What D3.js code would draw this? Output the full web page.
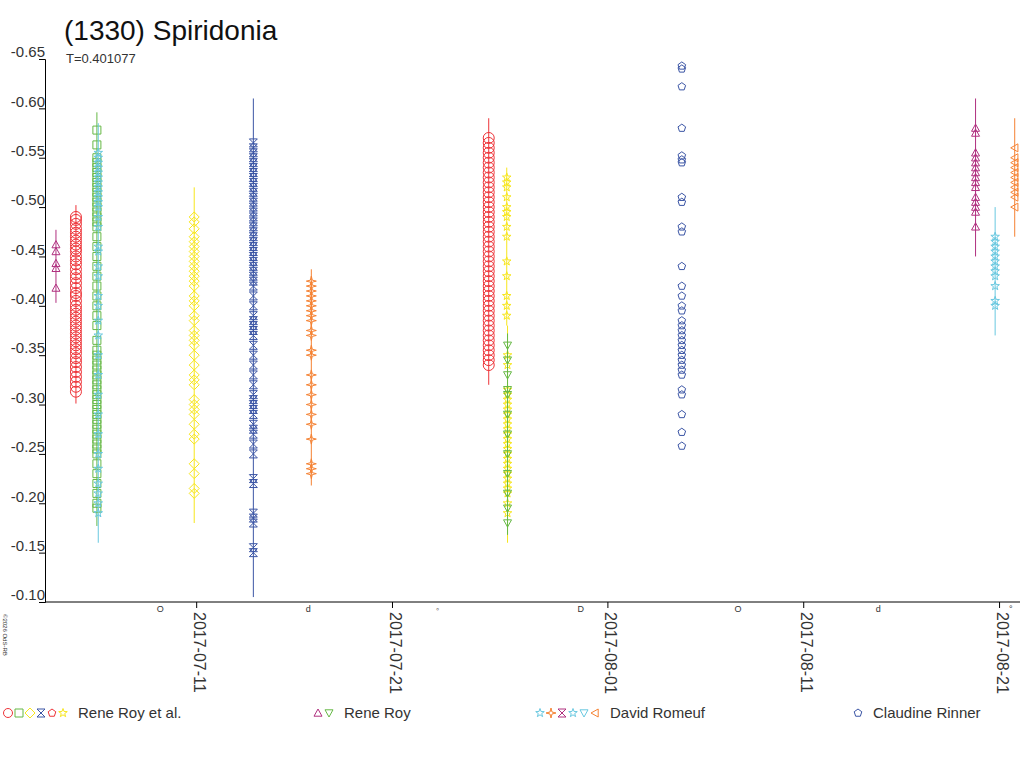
<!DOCTYPE html>
<html><head><meta charset="utf-8">
<script src="https://cdn.jsdelivr.net/npm/d3@7"></script>
<style>body{margin:0;background:#fff}text{font-family:"Liberation Sans",Arial,sans-serif}</style>
</head><body><svg id="c" width="1024" height="768"></svg>
<script>
const xTicks=["2017-07-11","2017-07-21","2017-08-01","2017-08-11","2017-08-21"];
const yTicks=[-0.65,-0.60,-0.55,-0.50,-0.45,-0.40,-0.35,-0.30,-0.25,-0.20,-0.15,-0.10];
const observers=["Rene Roy et al.","Rene Roy","David Romeuf","Claudine Rinner"];
const s1=[-0.462,-0.455,-0.443,-0.438,-0.418];
const s2=[-0.49,-0.487,-0.483,-0.478,-0.474,-0.47,-0.466,-0.462,-0.458,-0.455,-0.45,-0.446,-0.442,-0.437,-0.432,-0.428,-0.423,-0.418,-0.413,-0.41,-0.405,-0.40,-0.396,-0.392,-0.388,-0.384,-0.38,-0.376,-0.372,-0.368,-0.364,-0.36,-0.356,-0.352,-0.347,-0.343,-0.338,-0.333,-0.328,-0.323,-0.318,-0.313];
const s3=[-0.578,-0.563,-0.55,-0.545,-0.54,-0.535,-0.53,-0.525,-0.52,-0.515,-0.51,-0.505,-0.5,-0.495,-0.49,-0.485,-0.48,-0.47,-0.46,-0.45,-0.44,-0.43,-0.42,-0.41,-0.4,-0.39,-0.38,-0.365,-0.355,-0.35,-0.345,-0.34,-0.335,-0.33,-0.325,-0.32,-0.315,-0.31,-0.305,-0.3,-0.295,-0.29,-0.285,-0.28,-0.275,-0.27,-0.265,-0.26,-0.255,-0.25,-0.24,-0.23,-0.22,-0.21,-0.2,-0.195];
const s4=[-0.555,-0.55,-0.545,-0.54,-0.535,-0.53,-0.525,-0.52,-0.515,-0.51,-0.505,-0.5,-0.49,-0.48,-0.46,-0.455,-0.44,-0.43,-0.41,-0.4,-0.385,-0.37,-0.35,-0.33,-0.31,-0.29,-0.27,-0.25,-0.235,-0.22,-0.21,-0.2,-0.19];
const s5=[-0.49,-0.485,-0.478,-0.47,-0.465,-0.46,-0.455,-0.45,-0.445,-0.44,-0.435,-0.43,-0.425,-0.42,-0.41,-0.405,-0.4,-0.39,-0.385,-0.375,-0.37,-0.365,-0.36,-0.35,-0.34,-0.33,-0.325,-0.32,-0.305,-0.3,-0.295,-0.29,-0.28,-0.27,-0.265,-0.24,-0.23,-0.215,-0.21];
const s6=[-0.565,-0.56,-0.555,-0.55,-0.545,-0.54,-0.535,-0.53,-0.525,-0.52,-0.515,-0.51,-0.505,-0.5,-0.495,-0.49,-0.485,-0.48,-0.475,-0.47,-0.465,-0.46,-0.455,-0.45,-0.445,-0.44,-0.435,-0.43,-0.425,-0.42,-0.41,-0.4,-0.39,-0.385,-0.38,-0.375,-0.37,-0.36,-0.35,-0.34,-0.33,-0.32,-0.31,-0.305,-0.3,-0.295,-0.29,-0.28,-0.275,-0.27,-0.26,-0.25,-0.225,-0.22,-0.19,-0.185,-0.18,-0.155,-0.15];
const s7=[-0.425,-0.42,-0.415,-0.41,-0.405,-0.4,-0.395,-0.39,-0.385,-0.375,-0.37,-0.355,-0.35,-0.33,-0.32,-0.31,-0.3,-0.29,-0.28,-0.265,-0.24,-0.235,-0.23];
const s8=[-0.57,-0.565,-0.56,-0.555,-0.55,-0.545,-0.54,-0.535,-0.53,-0.525,-0.52,-0.515,-0.51,-0.505,-0.5,-0.495,-0.49,-0.485,-0.48,-0.475,-0.47,-0.465,-0.46,-0.455,-0.45,-0.445,-0.44,-0.435,-0.43,-0.425,-0.42,-0.415,-0.41,-0.405,-0.4,-0.395,-0.39,-0.385,-0.38,-0.375,-0.37,-0.365,-0.36,-0.355,-0.35,-0.345,-0.34];
const s9=[-0.53,-0.525,-0.52,-0.51,-0.5,-0.495,-0.49,-0.48,-0.47,-0.445,-0.43,-0.41,-0.4,-0.39];
const s10=[-0.35,-0.34,-0.315,-0.31,-0.305,-0.3,-0.295,-0.29,-0.285,-0.28,-0.275,-0.27,-0.265,-0.26,-0.255,-0.25,-0.245,-0.24,-0.235,-0.23,-0.225,-0.22,-0.215,-0.21,-0.2,-0.19];
const s11=[-0.36,-0.345,-0.33,-0.315,-0.31,-0.29,-0.27,-0.25,-0.23,-0.21,-0.195,-0.18];
const s12=[-0.643,-0.64,-0.622,-0.58,-0.552,-0.548,-0.545,-0.51,-0.505,-0.48,-0.475,-0.44,-0.42,-0.41,-0.4,-0.395,-0.385,-0.38,-0.375,-0.37,-0.365,-0.36,-0.355,-0.35,-0.345,-0.34,-0.335,-0.33,-0.315,-0.31,-0.29,-0.272,-0.258];
const s13=[-0.58,-0.575,-0.555,-0.55,-0.545,-0.54,-0.535,-0.53,-0.525,-0.52,-0.51,-0.505,-0.5,-0.495,-0.48];
const s14=[-0.47,-0.465,-0.46,-0.455,-0.45,-0.445,-0.44,-0.435,-0.43,-0.42,-0.405,-0.4];
const s15=[-0.56,-0.55,-0.545,-0.54,-0.535,-0.53,-0.525,-0.52,-0.515,-0.51,-0.5];
const sessionDay=[-7.16,-6.14,-5.07,-5.0,-0.1,2.92,5.88,14.94,15.86,15.9,15.9,24.8,39.8,40.8,41.8];
const sessionVals=[s1,s2,s3,s4,s5,s6,s7,s8,s9,s10,s11,s12,s13,s14,s15];
const sessionErr=[0.015,0.012,0.018,0.03,0.03,0.045,0.012,0.02,0.01,0.03,0.012,0,0.03,0.03,0.03];
const sessionSym=["tri","circle","square","star","diamond","hour","star4","circle","star","star","tridown","pent","tri","star","trileft"];
const sessionCol=["#b0307f","#ee3338","#66b845","#68c8e0","#f7e61c","#3b55a5","#f58233","#ee3338","#f7e61c","#f7e61c","#66b845","#3b55a5","#b0307f","#68c8e0","#f58233"];
const legendSyms=[["circle","square","diamond","hour","pent","star"],["tri","tridown"],["star","star4","hour","star","tridown","trileft"],["pent"]];
const legendCols=[["#ee3338","#66b845","#f7e61c","#3b55a5","#ee3338","#f7e61c"],["#b0307f","#66b845"],["#68c8e0","#f58233","#b0307f","#68c8e0","#68c8e0","#f58233"],["#3b55a5"]];
const moonDays=[-1.84,5.73,12.33,19.64,27.67,34.83,41.6];
const moonGlyph=["O","d","◦","D","O","d","°"];

const svg=d3.select("#c");
const t0=new Date(2017,6,11);
const day=d=>new Date(t0.getTime()+d*864e5);
const x=d3.scaleTime().domain([day(-7.72),day(42.07)]).range([45,1020]);
const y=d3.scaleLinear().domain([-0.65,-0.10]).range([59,602]);

function sym(g,type,cx,cy,col,s){
  s=s||4;
  if(type=="circle")return g.append("circle").attr("cx",cx).attr("cy",cy).attr("r",s+0.5).attr("fill","none").attr("stroke",col);
  let d;
  switch(type){
    case "square":d=`M${-s},${-s}H${s}V${s}H${-s}Z`;break;
    case "diamond":d=`M0,${-s-1}L${s+1},0L0,${s+1}L${-s-1},0Z`;break;
    case "tri":d=`M0,${-s}L${s},${s*0.8}L${-s},${s*0.8}Z`;break;
    case "tridown":d=`M0,${s}L${s},${-s*0.8}L${-s},${-s*0.8}Z`;break;
    case "trileft":d=`M${-s},0L${s*0.8},${-s}L${s*0.8},${s}Z`;break;
    case "hour":d=`M${-s},${-s}H${s}L${-s},${s}H${s}Z`;break;
    case "pent":d=d3.range(5).map(i=>{const a=-Math.PI/2+i*2*Math.PI/5;return (i?"L":"M")+(s*Math.cos(a)).toFixed(2)+","+(s*Math.sin(a)).toFixed(2)}).join("")+"Z";break;
    case "star":d=d3.range(10).map(i=>{const a=-Math.PI/2+i*Math.PI/5,r=i%2?s*0.45:s+0.5;return (i?"L":"M")+(r*Math.cos(a)).toFixed(2)+","+(r*Math.sin(a)).toFixed(2)}).join("")+"Z";break;
    case "star4":d=d3.range(8).map(i=>{const a=-Math.PI/2+i*Math.PI/4,r=i%2?s*0.35:s+1;return (i?"L":"M")+(r*Math.cos(a)).toFixed(2)+","+(r*Math.sin(a)).toFixed(2)}).join("")+"Z";break;
  }
  return g.append("path").attr("fill","none").attr("stroke",col).attr("stroke-width",1).attr("transform",`translate(${cx},${cy})`).attr("d",d);
}

const gy=svg.append("g").attr("transform","translate(45,0)")
  .call(d3.axisLeft(y).tickValues(yTicks).tickFormat(d=>d3.format(".2f")(d).replace("−","-")).tickSize(6));
gy.select(".domain").attr("stroke","#000");
gy.selectAll("text").attr("font-size",15).attr("fill","#333").attr("x",0).attr("dy","-0.15em").attr("text-anchor","end");
const gx=svg.append("g").attr("transform","translate(0,602)")
  .call(d3.axisBottom(x).tickValues(xTicks.map(s=>new Date(s+"T00:00:00"))).tickFormat(d3.timeFormat("%Y-%m-%d")).tickSize(6));
gx.select(".domain").attr("d","M45,0H1020").attr("stroke","#000");
gx.selectAll(".tick line").attr("stroke","#000");
gx.selectAll("text").attr("font-size",16).attr("fill","#333").attr("transform","rotate(90)").attr("text-anchor","start").attr("x",10).attr("y",-9).attr("dy","0.72em").attr("dx",0);

const gd=svg.append("g");
sessionVals.forEach((vals,i)=>{
  const cx=x(day(sessionDay[i])),e=sessionErr[i],col=sessionCol[i];
  if(e>0) gd.append("line").attr("x1",cx).attr("x2",cx).attr("y1",y(d3.min(vals)-e)).attr("y2",y(d3.max(vals)+e)).attr("stroke",col);
  vals.forEach(v=>sym(gd,sessionSym[i],cx,y(v),col,sessionSym[i]=="circle"?5:4));
});
moonDays.forEach((d,i)=>svg.append("text").attr("x",x(day(d))).attr("y",612).attr("font-size",9).attr("text-anchor","middle").attr("fill","#333").text(moonGlyph[i]));

svg.append("text").attr("x",64).attr("y",40).attr("font-size",28).attr("fill","#111").text("(1330) Spiridonia");
svg.append("text").attr("x",66).attr("y",63).attr("font-size",13).attr("fill","#333").text("T=0.401077");
svg.append("text").attr("transform","translate(3,614) rotate(90)").attr("font-size",6).attr("fill","#333").text("©2026 OdS-RB");

const lx=[8,318,540,858];
observers.forEach((o,i)=>{
  legendSyms[i].forEach((s,j)=>sym(svg,s,lx[i]+j*11,713,legendCols[i][j],4));
  svg.append("text").attr("x",lx[i]+legendSyms[i].length*11+4).attr("y",718).attr("font-size",15).attr("fill","#333").text(o);
});
</script></body></html>
